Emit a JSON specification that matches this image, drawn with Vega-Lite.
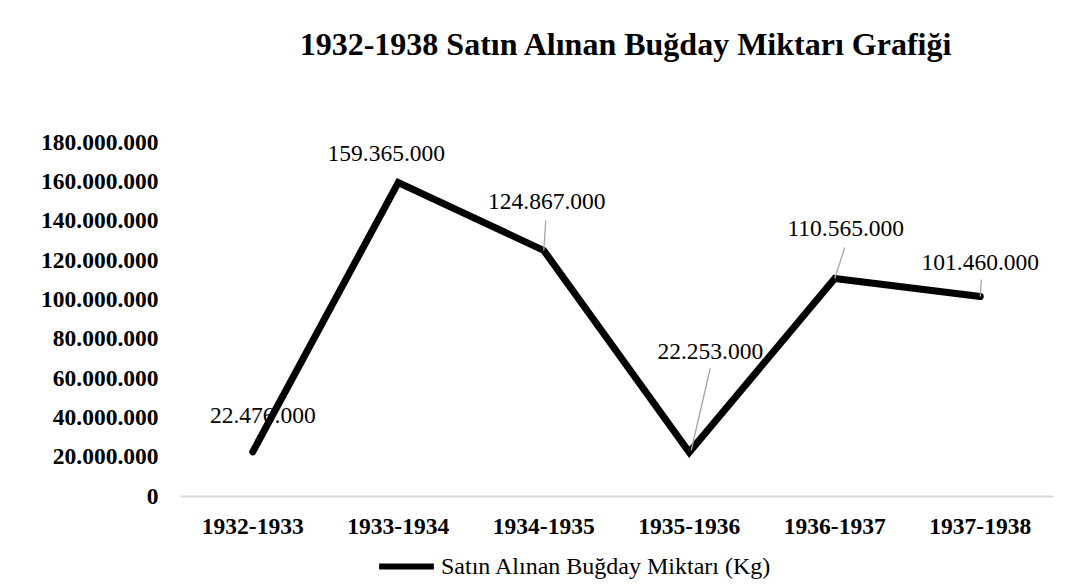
{
  "$schema": "https://vega.github.io/schema/vega-lite/v6.json",
  "width": 873,
  "height": 354,
  "autosize": {"type": "none"},
  "padding": {"left": 180, "top": 142, "right": 12, "bottom": 92},
  "background": "white",
  "config": {
    "view": {"stroke": null},
    "font": "Liberation Serif",
    "locale": {"number": {"decimal": ",", "thousands": ".", "grouping": [3], "currency": ["", ""]}}
  },
  "title": {
    "text": "1932-1938 Satın Alınan Buğday Miktarı Grafiği",
    "font": "Liberation Serif",
    "fontSize": 32,
    "fontWeight": "bold",
    "color": "black",
    "anchor": "middle",
    "offset": 68,
    "dx": 9
  },
  "data": {
    "values": [
      {"period": "1932-1933", "value": 22476000},
      {"period": "1933-1934", "value": 159365000},
      {"period": "1934-1935", "value": 124867000},
      {"period": "1935-1936", "value": 22253000},
      {"period": "1936-1937", "value": 110565000},
      {"period": "1937-1938", "value": 101460000}
    ]
  },
  "encoding": {
    "x": {
      "field": "period",
      "type": "ordinal",
      "sort": null,
      "title": null,
      "axis": {
        "labelFont": "Liberation Serif",
        "labelFontSize": 23.5,
        "labelFontWeight": "bold",
        "labelColor": "black",
        "labelAngle": 0,
        "labelPadding": 18,
        "ticks": false,
        "domainColor": "#d9d9d9",
        "domainWidth": 2,
        "grid": false
      }
    },
    "y": {
      "field": "value",
      "type": "quantitative",
      "title": null,
      "scale": {"domain": [0, 180000000], "nice": false},
      "axis": {
        "values": [0, 20000000, 40000000, 60000000, 80000000, 100000000, 120000000, 140000000, 160000000, 180000000],
        "format": ",d",
        "labelFont": "Liberation Serif",
        "labelFontSize": 23.5,
        "labelFontWeight": "bold",
        "labelColor": "black",
        "labelPadding": 22,
        "ticks": false,
        "domain": false,
        "grid": false
      }
    }
  },
  "layer": [
    {"transform": [{"filter": "datum.period == '1932-1933'"}], "mark": {"type": "text", "fontSize": 23.5, "font": "Liberation Serif", "color": "black", "baseline": "middle", "align": "center", "dx": 10, "dy": -36}, "encoding": {"text": {"field": "value", "type": "quantitative", "format": ",d"}}},
    {"transform": [{"filter": "datum.period == '1933-1934'"}], "mark": {"type": "text", "fontSize": 23.5, "font": "Liberation Serif", "color": "black", "baseline": "middle", "align": "center", "dx": -12, "dy": -29}, "encoding": {"text": {"field": "value", "type": "quantitative", "format": ",d"}}},
    {"transform": [{"filter": "datum.period == '1934-1935'"}], "mark": {"type": "text", "fontSize": 23.5, "font": "Liberation Serif", "color": "black", "baseline": "middle", "align": "center", "dx": 3, "dy": -48}, "encoding": {"text": {"field": "value", "type": "quantitative", "format": ",d"}}},
    {"transform": [{"filter": "datum.period == '1935-1936'"}], "mark": {"type": "text", "fontSize": 23.5, "font": "Liberation Serif", "color": "black", "baseline": "middle", "align": "center", "dx": 21, "dy": -100}, "encoding": {"text": {"field": "value", "type": "quantitative", "format": ",d"}}},
    {"transform": [{"filter": "datum.period == '1936-1937'"}], "mark": {"type": "text", "fontSize": 23.5, "font": "Liberation Serif", "color": "black", "baseline": "middle", "align": "center", "dx": 11, "dy": -50}, "encoding": {"text": {"field": "value", "type": "quantitative", "format": ",d"}}},
    {"transform": [{"filter": "datum.period == '1937-1938'"}], "mark": {"type": "text", "fontSize": 23.5, "font": "Liberation Serif", "color": "black", "baseline": "middle", "align": "center", "dx": 0, "dy": -33}, "encoding": {"text": {"field": "value", "type": "quantitative", "format": ",d"}}},
    {
      "mark": {"type": "line", "strokeWidth": 7, "strokeCap": "round", "strokeJoin": "miter"},
      "encoding": {
        "color": {
          "datum": "Satın Alınan Buğday Miktarı (Kg)",
          "type": "nominal",
          "scale": {"range": ["black"]},
          "legend": {
            "title": null,
            "orient": "none",
            "legendX": 196,
            "legendY": 394,
            "padding": 0,
            "direction": "horizontal",
            "symbolType": "stroke",
            "symbolSize": 3000,
            "symbolStrokeWidth": 6,
            "labelFont": "Liberation Serif",
            "labelFontSize": 24,
            "labelColor": "black",
            "labelOffset": 4,
            "labelLimit": 600
          }
        }
      }
    },
    {"transform": [{"filter": "datum.period == '1934-1935'"}], "mark": {"type": "rule", "color": "#a6a6a6", "strokeWidth": 1.3, "x2Offset": 2, "y2Offset": -30}, "encoding": {"x2": {"field": "period"}, "y2": {"field": "value"}}},
    {"transform": [{"filter": "datum.period == '1935-1936'"}], "mark": {"type": "rule", "color": "#a6a6a6", "strokeWidth": 1.3, "xOffset": 2, "yOffset": -2, "x2Offset": 21, "y2Offset": -84}, "encoding": {"x2": {"field": "period"}, "y2": {"field": "value"}}},
    {"transform": [{"filter": "datum.period == '1936-1937'"}], "mark": {"type": "rule", "color": "#a6a6a6", "strokeWidth": 1.3, "x2Offset": 10, "y2Offset": -31}, "encoding": {"x2": {"field": "period"}, "y2": {"field": "value"}}},
    {"transform": [{"filter": "datum.period == '1937-1938'"}], "mark": {"type": "rule", "color": "#a6a6a6", "strokeWidth": 1.3, "x2Offset": 1, "y2Offset": -17}, "encoding": {"x2": {"field": "period"}, "y2": {"field": "value"}}}
  ]
}
